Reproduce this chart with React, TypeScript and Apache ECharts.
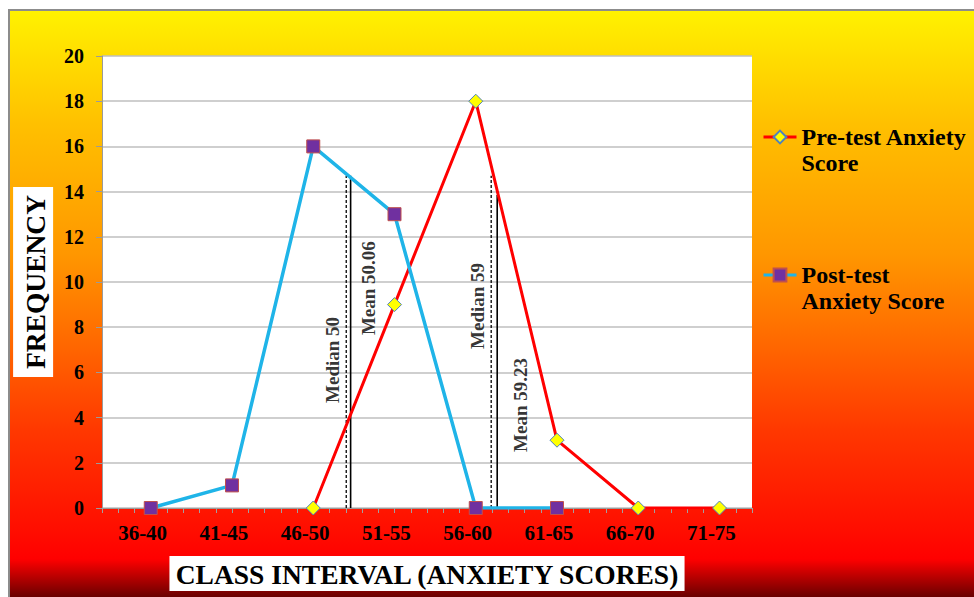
import React, { useEffect, useRef } from "react";
import * as echarts from "echarts";

const classIntervals = ["36-40", "41-45", "46-50", "51-55", "56-60", "61-65", "66-70", "71-75"];
const classMid = [38, 43, 48, 53, 58, 63, 68, 73];
const preTest: (number | null)[] = [null, null, 0, 9, 18, 3, 0, 0];
const postTest: (number | null)[] = [0, 1, 16, 13, 0, 0, null, null];
const yTicks = [0, 2, 4, 6, 8, 10, 12, 14, 16, 18, 20];

const refNames = ["Median 50", "Mean 50.06", "Median 59", "Mean 59.23"];
const refX = [50.03, 50.3, 58.95, 59.32];
const refTop = [14.7, 14.7, 14.7, 13.85];
const refDashed = [true, false, true, false];
const refLabelX = [49.2, 51.43, 58.08, 60.78];
const refLabelY = [6.55, 9.73, 8.94, 4.56];

const FONT = "'Liberation Serif', 'Times New Roman', serif";

function pairs(vals: (number | null)[]) {
  const out: number[][] = [];
  vals.forEach((v, i) => {
    if (v !== null) out.push([classMid[i], v]);
  });
  return out;
}

export default function App() {
  const ref = useRef<HTMLDivElement>(null);
  useEffect(() => {
    if (!ref.current) return;
    const chart = echarts.init(ref.current, null, { renderer: "svg" });
    const refSeries = refNames.map((n, i) => ({
      type: "line",
      name: n,
      xAxisIndex: 0,
      data: [
        [refX[i], 0],
        [refX[i], refTop[i]],
      ],
      symbol: "none",
      lineStyle: { color: "#000", width: refDashed[i] ? 1.3 : 1.6, type: refDashed[i] ? [3, 2] : "solid" },
      z: 1,
      silent: true,
    }));
    chart.setOption({
      animation: false,
      graphic: [
        {
          type: "rect",
          shape: { x: 9, y: 10, width: 980, height: 600 },
          style: {
            fill: new echarts.graphic.LinearGradient(0, 0, 0, 1, [
              { offset: 0, color: "#FFF200" },
              { offset: 0.19, color: "#FFC000" },
              { offset: 0.41, color: "#FF9600" },
              { offset: 0.55, color: "#FF6A00" },
              { offset: 0.7, color: "#FF3800" },
              { offset: 0.88, color: "#FF0A00" },
              { offset: 0.915, color: "#FF0000" },
              { offset: 0.985, color: "#5A0000" },
              { offset: 1, color: "#500000" },
            ]),
            stroke: "#8c8c8c",
            lineWidth: 2,
          },
          z: -10,
          silent: true,
        },
      ],
      grid: {
        left: 102,
        right: 222,
        top: 56,
        bottom: 89,
        backgroundColor: "#fff",
        show: true,
        borderWidth: 0,
        containLabel: false,
        outerBoundsMode: "none",
      },
      legend: {
        data: ["Pre-test Anxiety Score", "Post-test Anxiety Score"],
        orient: "vertical",
        left: 762,
        top: 98,
        padding: 0,
        itemWidth: 33,
        itemHeight: 16,
        itemGap: 60,
        lineStyle: { width: 3 },
        formatter: (n: string) => (n === "Pre-test Anxiety Score" ? "\nPre-test Anxiety\nScore" : "\nPost-test\nAnxiety Score"),
        textStyle: {
          fontFamily: FONT,
          fontWeight: "bold",
          fontSize: 24,
          color: "#000",
          lineHeight: 26,
        },
      },
      xAxis: [
        {
          type: "value",
          position: "bottom",
          min: 35,
          max: 75,
          interval: 1,
          axisLine: { show: true, lineStyle: { color: "#9a9a9a", width: 1 } },
          axisTick: { show: true, length: 5, lineStyle: { color: "#a0a0a0" } },
          axisLabel: { show: false },
          splitLine: { show: false },
        },
        {
          type: "category",
          position: "bottom",
          data: classIntervals,
          boundaryGap: true,
          axisLine: { show: false },
          axisTick: { show: false },
          axisLabel: { margin: 14, fontFamily: FONT, fontWeight: "bold", fontSize: 21, color: "#000" },
          name: "CLASS INTERVAL (ANXIETY SCORES)",
          nameLocation: "middle",
          nameGap: 48,
          nameTextStyle: {
            fontFamily: FONT,
            fontWeight: "bold",
            fontSize: 27.5,
            color: "#000",
            backgroundColor: "#fff",
            padding: [4, 5, 3, 5],
            lineHeight: 28,
          },
        },
      ],
      yAxis: {
        type: "value",
        min: 0,
        max: 20,
        interval: 2,
        axisLine: { show: true, lineStyle: { color: "#9a9a9a" } },
        axisTick: { show: true, length: 6, lineStyle: { color: "#9a9a9a" } },
        axisLabel: {
          margin: 18,
          fontFamily: FONT,
          fontWeight: "bold",
          fontSize: 20,
          color: "#000",
          formatter: (v: number) => (yTicks.includes(v) ? String(v) : ""),
        },
        splitLine: { show: true, lineStyle: { color: "#bfbfbf", width: 1.5 } },
        name: "FREQUENCY",
        nameLocation: "middle",
        nameGap: 48,
        nameTextStyle: {
          fontFamily: FONT,
          fontWeight: "bold",
          fontSize: 27.5,
          color: "#000",
          backgroundColor: "#fff",
          padding: [8, 8, 4, 8],
          lineHeight: 28,
        },
      },
      series: [
        ...refSeries,
        {
          type: "scatter",
          name: "refLabels",
          xAxisIndex: 0,
          symbolSize: 0,
          silent: true,
          data: refNames.map((n, i) => ({ name: n, value: [refLabelX[i], refLabelY[i]] })),
          label: {
            show: true,
            position: "inside",
            rotate: 90,
            formatter: (p: any) => p.name,
            fontFamily: FONT,
            fontWeight: "bold",
            fontSize: 19,
            color: "#000",
          },
          z: 3,
        },
        {
          type: "line",
          name: "Pre-test Anxiety Score",
          xAxisIndex: 0,
          data: pairs(preTest),
          symbol: "diamond",
          symbolSize: 14,
          lineStyle: { color: "#FF0000", width: 3 },
          itemStyle: { color: "#FFFF00", borderColor: "#4F81BD", borderWidth: 1 },
          z: 4,
        },
        {
          type: "line",
          name: "Post-test Anxiety Score",
          xAxisIndex: 0,
          data: pairs(postTest),
          symbol: "rect",
          symbolSize: 13,
          lineStyle: { color: "#1FB4E8", width: 3.5 },
          itemStyle: { color: "#7030A0", borderColor: "#C0504D", borderWidth: 1 },
          z: 5,
        },
      ],
    });
    return () => chart.dispose();
  }, []);
  return <div ref={ref} style={{ position: "absolute", left: 0, top: 0, width: 974, height: 597 }} />;
}
